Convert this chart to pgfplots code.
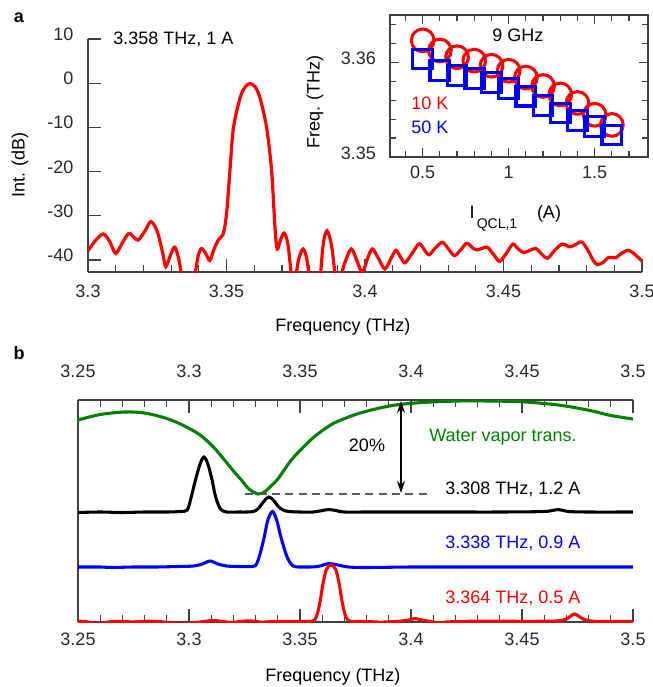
\documentclass[border=0pt]{standalone}
\usepackage{pgfplots}
\pgfplotsset{compat=1.18}
\usepackage{fontspec}
\setmainfont{Liberation Sans}
\usetikzlibrary{arrows.meta}
\definecolor{myred}{RGB}{255,0,0}
\definecolor{myblue}{RGB}{0,0,255}
\definecolor{mygreen}{RGB}{0,128,0}
\definecolor{axgray}{RGB}{64,64,64}
\definecolor{txtgray}{RGB}{40,40,40}
\newcommand{\fs}{\fontsize{13.5}{15}\selectfont}
\pgfplotsset{
  mybase/.style={
    scale only axis,
    anchor=south west,
    axis line style={axgray, line width=0.9pt, -},
    every tick/.style={axgray, line width=0.9pt},
    tick align=inside,
    major tick length=10pt,
    minor tick length=5pt,
    ticklabel style={font=\fs, text=txtgray},
    /pgf/number format/assume math mode=true,
    scaled ticks=false,
  }
}
\begin{document}
\begin{tikzpicture}
\useasboundingbox (0,0) rectangle (489.75pt,-515.25pt);

% ---------------- panel a ----------------
\begin{axis}[mybase,
  at={(66pt,-204pt)}, width=415.5pt, height=174.75pt,
  xmin=3.3, xmax=3.5, ymin=-42.7, ymax=10,
  axis x line*=bottom, axis y line*=left,
  xtick={3.3,3.35,3.4,3.45,3.5}, minor x tick num=4,
  ytick={-40,-30,-20,-10,0,10},
  xticklabel style={yshift=-6pt},
  yticklabel style={xshift=-7.5pt, yshift=3.5pt},
  /pgf/number format/precision=3,
]
\addplot[myred, line width=2.4pt, smooth, tension=0.5] coordinates {
(3.300,-37.9) (3.3028,-35.5) (3.3056,-34.1) (3.3080,-36.0) (3.3100,-38.5)
(3.3125,-36.0) (3.3147,-34.0) (3.3165,-34.8) (3.3181,-35.5) (3.3205,-33.5)
(3.3227,-31.3) (3.3250,-33.5) (3.3270,-38.5) (3.3281,-41.5) (3.3300,-38.5)
(3.3314,-37.1) (3.3330,-40.5) (3.3345,-47) (3.3360,-52) (3.3375,-48)
(3.3386,-43.5) (3.3398,-39) (3.3410,-37.4) (3.3425,-38.5) (3.3440,-40.1)
(3.3455,-37.5) (3.3471,-35.4) (3.3489,-33.9) (3.3501,-29) (3.3513,-19.2)
(3.3525,-10.1) (3.3549,-3.3) (3.3568,-0.8) (3.3585,-0.1) (3.3603,-0.8)
(3.3621,-3.3) (3.3645,-10.1) (3.3663,-19.9) (3.3675,-32.6) (3.3683,-37.5)
(3.3695,-35.5) (3.3708,-33.9) (3.3722,-36.5) (3.3741,-46) (3.3760,-40)
(3.3777,-37.5) (3.3792,-40.5) (3.3810,-50) (3.3830,-50) (3.3848,-37)
(3.3863,-33.4) (3.3880,-37) (3.3900,-46) (3.3925,-41) (3.3950,-37.5)
(3.3970,-40) (3.3990,-42.8) (3.4010,-39.5) (3.4027,-37.5) (3.4050,-39.8)
(3.4072,-42.0) (3.4095,-39.5) (3.4112,-37.8) (3.4130,-39.5) (3.4145,-40.6)
(3.4170,-38.5) (3.4196,-36.3) (3.4218,-38.0) (3.4232,-38.8) (3.4255,-37.2)
(3.4280,-36.0) (3.4305,-37.8) (3.4324,-39.0) (3.4348,-37.5) (3.4368,-36.2)
(3.4390,-37.3) (3.4405,-37.7) (3.4425,-37.3) (3.4442,-37.1) (3.4465,-38.8)
(3.4486,-40.3) (3.4510,-38.5) (3.4534,-36.4) (3.4555,-37.6) (3.4574,-38.3)
(3.4595,-37.8) (3.4617,-37.4) (3.4640,-38.8) (3.4659,-39.6) (3.4685,-37.8)
(3.4712,-36.4) (3.4740,-37.0) (3.4760,-36.5) (3.4782,-35.9) (3.4805,-37.8)
(3.4825,-40.2) (3.4840,-41.0) (3.4860,-40.5) (3.4880,-39.4) (3.4905,-39.5)
(3.4925,-38.5) (3.4950,-37.8) (3.4970,-38.5) (3.5000,-40.2)
};
\end{axis}

% ---------------- inset ----------------
\begin{axis}[mybase,
  at={(292.5pt,-117.75pt)}, width=193.5pt, height=106.5pt,
  xmin=0.31, xmax=1.81, ymin=3.35, ymax=3.365,
  axis background/.style={fill=white},
  axis line style={axgray, line width=0.9pt},
  major tick length=7pt, minor tick length=4.5pt,
  xtick={0.5,1,1.5},
  minor xtick={0.4,0.6,0.7,0.8,0.9,1.1,1.2,1.3,1.4,1.6,1.7},
  ytick={3.35,3.36},
  minor ytick={3.352,3.354,3.356,3.358,3.362,3.364},
  xticklabel style={yshift=-3pt},
  yticklabel style={xshift=-7pt, yshift=3pt},
  /pgf/number format/precision=3,
  clip=false,
]
\addplot[only marks, mark=o, mark size=8.5pt, myred, line width=2.3pt] coordinates {
(0.5,3.36232) (0.6,3.36125) (0.7,3.36054) (0.8,3.36018) (0.9,3.35964) (1.0,3.35911)
(1.1,3.35839) (1.2,3.35750) (1.3,3.35661) (1.4,3.35571) (1.5,3.35446) (1.6,3.35339)
};
\addplot[only marks, mark=square, mark size=7.4pt, myblue, line width=2.3pt] coordinates {
(0.5,3.36036) (0.6,3.35911) (0.7,3.35864) (0.8,3.35832) (0.9,3.35786) (1.0,3.35721)
(1.1,3.35643) (1.2,3.35543) (1.3,3.35464) (1.4,3.35386) (1.5,3.35321) (1.6,3.35232)
};
\end{axis}

% ---------------- panel b ----------------
\begin{axis}[mybase,
  at={(58.5pt,-466.5pt)}, width=416.25pt, height=166.5pt,
  xmin=3.25, xmax=3.5, ymin=0, ymax=222,
  axis x line*=box, axis y line*=left,
  ytick=\empty,
  xtick={3.25,3.3,3.35,3.4,3.45,3.5}, minor x tick num=4,
  xticklabel pos=lower,
  xticklabel style={yshift=-4.5pt},
  /pgf/number format/precision=3,
]
\addplot[mygreen, line width=2.3pt, smooth] coordinates {
(3.250,202) (3.260,207.5) (3.271,210) (3.280,209) (3.290,203.5) (3.298,196)
(3.305,187) (3.311,175) (3.316,162) (3.320,151) (3.3236,142) (3.327,133)
(3.3311,128) (3.334,130) (3.3367,135.5) (3.340,143) (3.3461,162) (3.352,176)
(3.3574,187) (3.365,198.5) (3.3743,207) (3.383,212.5) (3.393,217) (3.405,219.5)
(3.4212,221) (3.435,221) (3.4493,220.3) (3.460,218.5) (3.468,216.5) (3.476,213.5)
(3.4831,210.3) (3.490,206.5) (3.500,203)
};
\addplot[black, line width=2.3pt, smooth] coordinates {
(3.250,109.5) (3.260,110) (3.270,109.5) (3.280,110) (3.290,110) (3.296,110.5)
(3.2992,112) (3.301,125) (3.3029,142) (3.305,158) (3.3067,165) (3.3085,158)
(3.3104,142) (3.312,125) (3.3142,113) (3.317,110) (3.322,110) (3.326,110)
(3.329,110.5) (3.331,113) (3.3335,120) (3.3358,125) (3.338,122) (3.340,116)
(3.3423,112) (3.345,110.5) (3.350,110) (3.356,110) (3.360,111.5) (3.363,112.5)
(3.366,111.5) (3.370,110) (3.38,110) (3.40,110) (3.42,110) (3.44,110)
(3.46,110.5) (3.4662,112.5) (3.471,110.5) (3.48,110) (3.50,110)
};
\addplot[myblue, line width=2.3pt, smooth] coordinates {
(3.250,55) (3.260,55) (3.265,54.5) (3.275,55) (3.285,55) (3.295,55.5)
(3.302,56) (3.306,58) (3.3095,61) (3.313,58) (3.317,56) (3.322,55.5)
(3.327,55.5) (3.330,56.5) (3.332,68) (3.3339,85) (3.3355,102) (3.3376,110.5)
(3.3395,102) (3.3414,85) (3.3442,65) (3.347,56) (3.352,55) (3.358,55.5)
(3.363,58.5) (3.367,57) (3.372,55) (3.38,54.5) (3.40,55) (3.42,55)
(3.44,55) (3.46,55) (3.48,55) (3.50,55)
};
\addplot[myred, line width=2.3pt, smooth] coordinates {
(3.250,0.8) (3.253,0.6) (3.2545,0) (3.259,-1.5) (3.2635,0) (3.268,0.7)
(3.274,0.1) (3.2745,-0.3) (3.275,0.1) (3.282,0.8) (3.289,0) (3.297,-2)
(3.305,0) (3.311,1.5) (3.317,0) (3.319,-0.5) (3.321,0) (3.327,1.2)
(3.332,0) (3.333,-0.4) (3.334,0) (3.340,0.7) (3.348,0.6) (3.3555,0.8)
(3.3575,6) (3.359,20) (3.3605,40) (3.362,53) (3.364,57) (3.366,53)
(3.3675,40) (3.369,20) (3.3705,6) (3.3725,0.8) (3.378,0.6) (3.385,0)
(3.3865,-0.5) (3.388,0) (3.395,0.8) (3.400,2.5) (3.4015,3.5) (3.404,2.5)
(3.408,0.8) (3.410,0) (3.413,-1.2) (3.416,0) (3.425,0.7) (3.44,0.9)
(3.45,0.7) (3.465,1) (3.470,3) (3.4737,8) (3.4775,3) (3.482,0.8)
(3.49,0.7) (3.50,0.7)
};
\draw[dash pattern=on 6pt off 4pt, gray!70!black, line width=0.8pt]
  (axis cs:3.3254,128) -- (axis cs:3.4094,128);
\draw[{Stealth[length=9pt,width=6pt]}-{Stealth[length=9pt,width=6pt]}, line width=0.8pt]
  (axis cs:3.3955,221) -- (axis cs:3.3955,129);
\end{axis}
% top tick labels of panel b
\begin{axis}[mybase,
  at={(58.5pt,-466.5pt)}, width=416.25pt, height=166.5pt,
  xmin=3.25, xmax=3.5, ymin=0, ymax=222,
  axis x line*=top, hide y axis,
  axis line style={draw=none},
  xtick={3.25,3.3,3.35,3.4,3.45,3.5},
  major tick length=0pt,
  xticklabel pos=upper,
  xticklabel style={yshift=13pt},
  /pgf/number format/precision=3,
]
\addplot[draw=none] coordinates {(3.3,10)};
\end{axis}

% ---------------- text ----------------
\begin{scope}[x=0.75pt,y=-0.75pt]
\node[font=\fs\bfseries] at (19,18) {a};
\node[font=\fs\bfseries] at (19,353) {b};
\node[font=\fs, rotate=90] at (20,165) {Int. (dB)};
\node[font=\fs] at (343,327) {Frequency (THz)};
\node[font=\fs] at (333,677) {Frequency (THz)};
\node[font=\fs, anchor=west, inner sep=0pt] at (113,39) {3.358 THz, 1 A};
\node[font=\fs] at (518,35) {9 GHz};
\node[font=\fs, text=myred] at (430,103) {10 K};
\node[font=\fs, text=myblue] at (430,127) {50 K};
\node[font=\fs, rotate=90] at (315,102) {Freq. (THz)};
\node[font=\fs] at (472,212) {I};
\node[font=\fontsize{10.5}{12}\selectfont] at (497,225) {QCL,1};
\node[font=\fs] at (549,214) {(A)};
\node[font=\fs, text=mygreen, anchor=west, inner sep=0pt] at (429,437) {Water vapor trans.};
\node[font=\fs] at (367,445) {20\%};
\node[font=\fs, anchor=west, inner sep=0pt] at (445,489) {3.308 THz, 1.2 A};
\node[font=\fs, text=myblue, anchor=west, inner sep=0pt] at (445,543) {3.338 THz, 0.9 A};
\node[font=\fs, text=myred, anchor=west, inner sep=0pt] at (445,598) {3.364 THz, 0.5 A};
\end{scope}
\end{tikzpicture}
\end{document}
